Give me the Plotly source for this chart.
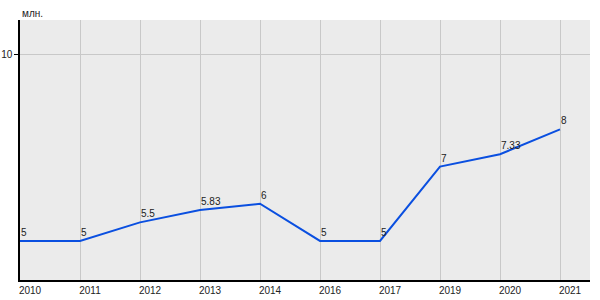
import plotly.graph_objects as go

years = ["2010", "2011", "2012", "2013", "2014", "2016", "2017", "2019", "2020", "2021"]
values = [5, 5, 5.5, 5.83, 6, 5, 5, 7, 7.33, 8]
labels = ["5", "5", "5.5", "5.83", "6", "5", "5", "7", "7.33", "8"]
y_ticks = [10]
unit_label = "млн."

fig = go.Figure()
fig.add_trace(go.Scatter(
    x=list(range(len(years))), y=values, mode="lines",
    line=dict(color="#0a4fe0", width=2), hoverinfo="skip", showlegend=False,
))

for i, (v, t) in enumerate(zip(values, labels)):
    fig.add_annotation(x=i, y=v, text=t, showarrow=False, xanchor="left", yanchor="bottom",
                       xshift=-1, yshift=1, font=dict(family="Liberation Sans, Arial", size=10, color="#222"))

fig.add_annotation(xref="paper", yref="paper", x=0, y=1, text=unit_label, showarrow=False,
                   xanchor="left", yanchor="middle", yshift=7,
                   font=dict(family="Liberation Sans, Arial", size=10, color="#222"))

fig.update_layout(
    width=600, height=300,
    margin=dict(l=20, r=10, t=20, b=20),
    paper_bgcolor="white", plot_bgcolor="#ebebeb",
    font=dict(family="Liberation Sans, Arial", size=10, color="#222"),
    xaxis=dict(
        tickmode="array", tickvals=list(range(len(years))), ticktext=years,
        range=[0, 9.5], showgrid=True, gridcolor="#c8c8c8", gridwidth=1,
        showline=True, linecolor="black", linewidth=1.5, ticks="", zeroline=False,
        ticklabelshift=10, fixedrange=True, automargin=False,
    ),
    yaxis=dict(
        tickmode="array", tickvals=y_ticks, ticktext=[str(t) for t in y_ticks],
        range=[3.95, 10.94], showgrid=True, gridcolor="#c8c8c8", gridwidth=1,
        showline=True, linecolor="black", linewidth=1.5, ticks="outside", ticklen=4,
        tickcolor="black", zeroline=False, fixedrange=True, automargin=False,
    ),
)

fig.write_html("out.html")
